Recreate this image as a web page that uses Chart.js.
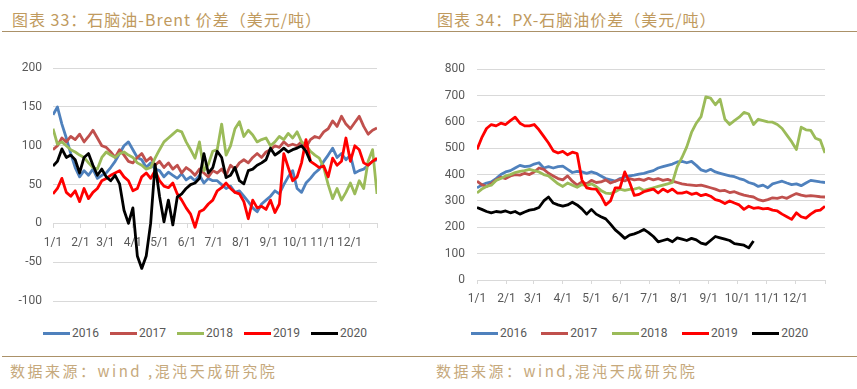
<!DOCTYPE html>
<html lang="zh-CN">
<head>
<meta charset="utf-8">
<title>石脑油价差</title>
<script src="https://cdn.jsdelivr.net/npm/chart.js@4.4.1/dist/chart.umd.min.js"></script>
<style>
  html, body { margin: 0; padding: 0; background: #fff; }
  body {
    width: 857px; height: 389px; position: relative; overflow: hidden;
    font-family: 'Noto Sans CJK SC', sans-serif;
  }
  .title {
    position: absolute; top: 11px; font-size: 16px; line-height: 17px;
    color: #c09a5e; letter-spacing: 1px; white-space: nowrap;
  }
  .rule { position: absolute; height: 0; border-top: 1.5px solid #ab9168; }
  .source {
    position: absolute; top: 362px; font-size: 15px; line-height: 17px;
    color: #c6a97c; letter-spacing: 2.5px; white-space: nowrap;
  }
  .chart-box { position: absolute; top: 50px; }
  .legend { position: absolute; top: 326px; display: flex; }
  .legend-item {
    display: flex; align-items: center; height: 14px;
    font: 12px Roboto, sans-serif; color: #595959;
  }
  .legend-line { width: 27px; height: 3px; margin-right: 2px; }
</style>
</head>
<body>
  <div class="title" style="left:12px;">图表 33：石脑油-Brent 价差（美元/吨）</div>
  <div class="title" style="left:437px;">图表 34：PX-石脑油价差（美元/吨）</div>
  <div class="rule" style="left:2px; top:31px; width:428px;"></div>
  <div class="rule" style="left:430px; top:31px; width:427px;"></div>

  <div class="chart-box" style="left:0;"><canvas id="naphtha-brent" width="430" height="270"></canvas></div>
  <div class="chart-box" style="left:430px;"><canvas id="px-naphtha" width="427" height="270"></canvas></div>

  <div class="legend" id="legend-left" style="left:43px;"></div>
  <div class="legend" id="legend-right" style="left:471px;"></div>

  <div class="rule" style="left:2px; top:356px; width:428px;"></div>
  <div class="rule" style="left:430px; top:356px; width:427px;"></div>
  <div class="source" style="left:10px;">数据来源：wind ,混沌天成研究院</div>
  <div class="source" style="left:436px;">数据来源：wind,混沌天成研究院</div>

<script>
// sampling interval of the series (days between points)
const STEP_DAYS = 5;

const years = ['2016', '2017', '2018', '2019', '2020'];
const yearColors = ['#4f81bd', '#c0504d', '#9bbb59', '#ff0000', '#000000'];

// x axis ticks: day of year for each month start, and the tick text
const monthStartDays = [0, 31, 59, 90, 120, 151, 181, 212, 243, 273, 304, 334, 365];
const monthLabels = ['1/1', '2/1', '3/1', '4/1', '5/1', '6/1', '7/1', '8/1', '9/1', '10/1', '11/1', '12/1', ''];

// 石脑油-Brent 价差 (USD/t)
const naphthaBrent2016 = [140,150,128,110,90,72,60, 68,62,70,58,62, 65,72,80,90,100,105, 95,85,82,72,78,70,
  68,60,66,62,58,64,56, 60,55,62,52,58,55, 55,50,45,48,40,42, 35,28,20,15,25,30, 35,42,38,50,60,68,
  45,40,52,58,65,70, 80,88,97,85,90,82, 88,65,68,70,75,80,82];
const naphthaBrent2017 = [95,100,110,105,112,108,115, 105,112,120,110,100, 98,92,85,95,88,80, 78,85,90,80,85,75,
  80,72,78,70,75,65,72, 68,62,70,65,60,68, 65,70,62,75,70,78, 82,78,85,90,85,92, 95,100,98,105,100,102,
  100,105,98,108,112,110, 118,122,132,125,138,128, 122,130,138,125,115,120,123];
const naphthaBrent2018 = [122,102,105,100,95,92,88, 85,78,72,70,85, 92,88,85,90,92,88, 85,78,75,70,72,84,
  95,105,110,115,120,118,105, 95,84,105,68,76,93, 95,128,88,100,122,131, 112,120,114,105,108,110,
  100,105,112,108,116,110, 118,105,101,93,88,84, 72,50,32,45,30,40, 52,38,55,45,80,95,38];
const naphthaBrent2019 = [38,45,58,40,35,42,28, 45,32,40,45,55, 58,62,65,68,60,55, 42,45,60,65,58,68,
  55,48,46,52,38,30,20, 12,-5,15,18,25,30, 42,46,52,45,40,38, 28,6,30,20,22,18, 30,14,25,90,72,55,
  60,78,108,80,76,72, 74,60,84,75,80,110, 80,100,95,78,75,80,84];
const naphthaBrent2020 = [74,80,96,85,88,82,65, 85,90,75,62,70, 60,55,62,51,17,0, 20,-42,-58,-42,0,76,
  35,2,30,-2,34,38,45, 50,52,58,90,65,72, 93,85,59,62,72,55, 51,68,70,75,78,82, 97,88,92,97,92,95,
  97,100,93,80];

// PX-石脑油价差 (USD/t)
const pxNaphtha2016 = [350,360,368,372,385,400,410, 415,425,435,430,432, 440,445,425,430,425,430,
  432,420,408,412,410,405, 410,405,395,385,380,375,385, 390,395,398,402,405,410, 415,425,430,435,440,448,
  450,445,450,435,418,412, 420,410,405,400,395,392, 385,380,370,365,355,360, 350,365,370,375,368,362,
  365,358,368,378,375,372,370];
const pxNaphtha2017 = [375,362,355,365,380,390,385, 395,400,398,405,400, 410,425,420,405,395,385,
  380,395,375,360,372,365, 378,370,372,380,368,375,382, 376,385,380,383,378,386, 380,385,378,382,375,370,
  365,362,360,358,360,355, 350,345,338,340,332,335, 328,322,318,315,305,300, 305,312,310,315,310,320,
  328,322,318,320,318,316,315];
const pxNaphtha2018 = [330,345,355,360,378,385,395, 400,408,412,415,420, 415,410,400,395,380,365,
  355,368,360,352,362,358, 365,355,340,330,328,335,345, 340,344,345,350,340,345, 350,355,360,365,370,430,
  465,505,560,595,620,695, 690,665,686,610,590,605, 618,636,630,590,610,605, 600,599,590,575,550,525,
  495,580,570,568,538,531,482];
const pxNaphtha2019 = [495,540,575,590,585,595,590, 605,618,595,585,585, 590,570,545,520,490,482,
  488,475,485,480,380,350, 346,345,320,285,300,350,350, 410,371,321,325,335,340, 345,330,345,335,345,330,
  330,334,325,330,320,325, 318,305,300,290,300,292, 285,268,280,272,275,270, 272,265,262,250,240,230,
  255,240,235,250,262,265,280];
const pxNaphtha2020 = [275,268,260,255,260,258,262, 255,260,250,258,265, 268,275,300,315,292,285,
  280,285,295,285,270,250, 268,250,240,232,212,190,175, 158,170,175,182,192,180, 165,145,150,155,145,160,
  155,150,158,152,140,135, 150,165,160,155,150,138, 135,132,122,148];

const GRID_COLOR = '#d9d9d9';
const TICK_COLOR = '#595959';
const TICK_FONT = { family: 'Roboto, sans-serif', size: 12 };

/**
 * Turn a value list into {x: day, y} points
 */
function toPoints(values) {
  return values.map((v, i) => ({ x: i * STEP_DAYS, y: v }));
}

/**
 * One dataset per year; later years drawn on top
 */
function buildDatasets(seriesList) {
  return seriesList.map((values, idx) => ({
    label: years[idx],
    data: toPoints(values),
    borderColor: yearColors[idx],
    backgroundColor: yearColors[idx],
    borderWidth: 2.8,
    borderJoinStyle: 'round',
    pointRadius: 0,
    tension: 0,
    order: seriesList.length - idx
  }));
}

function monthAxis(position, extra) {
  return Object.assign({
    type: 'linear',
    min: 0,
    max: 365,
    position: position,
    afterBuildTicks: (scale) => {
      scale.ticks = monthStartDays.map(d => ({ value: d }));
    },
    ticks: {
      autoSkip: false,
      maxRotation: 0,
      color: TICK_COLOR,
      font: TICK_FONT,
      padding: 8,
      callback: (value, index) => monthLabels[index]
    },
    grid: { drawOnChartArea: false, drawTicks: true, tickLength: 4, color: GRID_COLOR },
    border: { color: GRID_COLOR }
  }, extra || {});
}

function valueAxis(min, max, step, width, pad) {
  return {
    min: min,
    max: max,
    ticks: { stepSize: step, color: TICK_COLOR, font: TICK_FONT, padding: pad },
    grid: { color: GRID_COLOR, drawTicks: false },
    border: { display: false },
    afterFit: (scale) => { scale.width = width; }
  };
}

function makeChart(canvasId, seriesList, scales, padding) {
  const ctx = document.getElementById(canvasId).getContext('2d');
  return new Chart(ctx, {
    type: 'line',
    data: { datasets: buildDatasets(seriesList) },
    options: {
      responsive: false,
      animation: false,
      devicePixelRatio: 1,
      layout: { padding: padding },
      plugins: { legend: { display: false }, tooltip: { enabled: false } },
      scales: scales
    }
  });
}

// left: naphtha - Brent, x axis sits on the zero line
makeChart('naphtha-brent',
  [naphthaBrent2016, naphthaBrent2017, naphthaBrent2018, naphthaBrent2019, naphthaBrent2020],
  {
    x: monthAxis({ y: 0 }, {}),
    y: valueAxis(-100, 200, 50, 53, 11)
  },
  { left: 0, right: 53, top: 14, bottom: 19 });

// right: PX - naphtha
makeChart('px-naphtha',
  [pxNaphtha2016, pxNaphtha2017, pxNaphtha2018, pxNaphtha2019, pxNaphtha2020],
  {
    x: monthAxis('bottom', { afterFit: (scale) => { scale.height = 40; } }),
    y: valueAxis(0, 800, 100, 47, 12)
  },
  { left: 0, right: 32, top: 14, bottom: 0 });

// html legends under each chart
function renderLegend(id, itemWidth) {
  const box = document.getElementById(id);
  box.innerHTML = years.map((y, i) => `
    <div class="legend-item" style="width:${itemWidth}px;">
      <span class="legend-line" style="background:${yearColors[i]};"></span>${y}
    </div>`).join('');
}
renderLegend('legend-left', 67);
renderLegend('legend-right', 70.3);
</script>
</body>
</html>
